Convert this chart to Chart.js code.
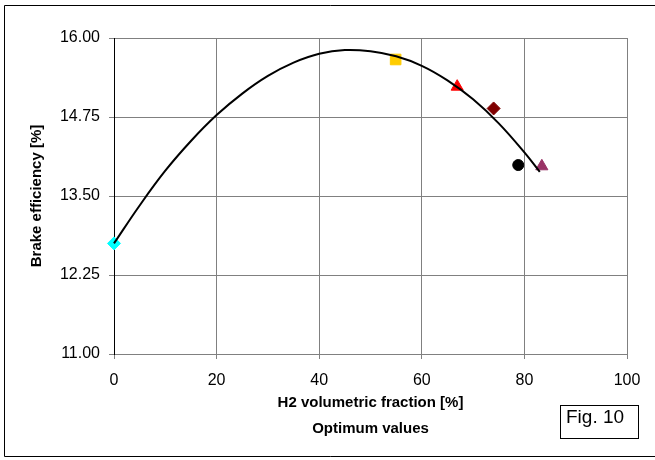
<!DOCTYPE html>
<html>
<head>
<meta charset="utf-8">
<script src="https://cdn.jsdelivr.net/npm/chart.js@4"></script>
<style>
  html, body { margin: 0; padding: 0; background: #fff; }
  #wrap { width: 655px; height: 460px; }
</style>
</head>
<body>
<div id="wrap"><canvas id="fig10" width="655" height="460"></canvas></div>
<script>
// trendline
const curveX = [0, 5, 10, 15, 20, 25, 30, 35, 40, 45, 50, 55, 60, 65, 70, 75, 80, 83];
const curveY = [12.75, 13.35, 13.90, 14.37, 14.78, 15.12, 15.40, 15.61, 15.75, 15.81, 15.79, 15.71, 15.56, 15.33, 15.03, 14.65, 14.19, 13.88];

// optimum points (one marker each)
const pointX = [0, 54.9, 66.9, 74.0, 78.8, 83.4];
const pointY = [12.75, 15.66, 15.23, 14.885, 13.99, 13.97];
const pointColors = ["#00FFFF", "#FFCC00", "#FF0000", "#800000", "#000000", "#993366"];
const pointStyles = ["rectRot", "rect", "triangle", "rectRot", "circle", "triangle"];
const pointSizes = [6.5, 7.5, 7, 6.5, 5.5, 7];

const xTicks = [0, 20, 40, 60, 80, 100];
const yTicks = [11.00, 12.25, 13.50, 14.75, 16.00];

const FONT = "'Liberation Sans', Arial, sans-serif";

const datasets = [{
  label: "trend",
  data: curveX.map((x, i) => ({ x: x, y: curveY[i] })),
  showLine: true,
  borderColor: "#000",
  borderWidth: 2,
  pointRadius: 0,
  tension: 0.4,
  fill: false,
  clip: false,
}];
pointX.forEach((x, i) => {
  datasets.push({
    label: "p" + i,
    data: [{ x: x, y: pointY[i] }],
    pointStyle: pointStyles[i],
    pointRadius: pointSizes[i],
    backgroundColor: pointColors[i],
    borderColor: pointColors[i],
    borderWidth: 1,
    clip: false,
  });
});

// outer frame + "Fig. 10" box
const framePlugin = {
  id: "frame",
  afterDraw(chart) {
    const c = chart.ctx;
    c.save();
    c.strokeStyle = "#000";
    c.lineWidth = 1;
    c.beginPath();
    c.moveTo(660, 5.5);
    c.lineTo(4.5, 5.5);
    c.lineTo(4.5, 456.5);
    c.lineTo(660, 456.5);
    c.stroke();
    c.strokeRect(560.5, 405.5, 78, 33);
    c.fillStyle = "#000";
    c.font = "19px " + FONT;
    c.textBaseline = "alphabetic";
    c.textAlign = "left";
    c.fillText("Fig. 10", 566, 423);
    c.restore();
  },
};

new Chart(document.getElementById("fig10"), {
  type: "scatter",
  data: { datasets: datasets },
  options: {
    responsive: false,
    animation: false,
    layout: { padding: { top: 38, right: 28, left: 0, bottom: 0 } },
    plugins: { legend: { display: false }, tooltip: { enabled: false } },
    scales: {
      x: {
        type: "linear",
        min: 0,
        max: 100,
        afterFit: (s) => { s.height = 106; },
        afterBuildTicks: (s) => { s.ticks = xTicks.map((v) => ({ value: v })); },
        ticks: { color: "#000", padding: 12, font: { family: FONT, size: 16 } },
        grid: { color: "#808080", tickLength: 5, tickColor: "#808080" },
        border: { color: "#808080" },
        title: {
          display: true,
          text: ["H2 volumetric fraction [%]", "Optimum values"],
          color: "#000",
          font: { family: FONT, size: 15, weight: "bold", lineHeight: 1.75 },
          padding: { top: 0, bottom: 18 },
        },
      },
      y: {
        type: "linear",
        min: 11,
        max: 16,
        afterFit: (s) => { s.width = 114; },
        afterBuildTicks: (s) => { s.ticks = yTicks.map((v) => ({ value: v })); },
        ticks: {
          color: "#000",
          padding: 9,
          font: { family: FONT, size: 16 },
          callback: (v) => v.toFixed(2),
        },
        grid: { color: "#808080", tickLength: 5, tickColor: "#808080" },
        border: { color: "#000" },
        title: {
          display: true,
          text: "Brake efficiency [%]",
          color: "#000",
          font: { family: FONT, size: 15, weight: "bold" },
          padding: { top: 28, bottom: 0 },
        },
      },
    },
  },
  plugins: [framePlugin],
});
</script>
</body>
</html>
